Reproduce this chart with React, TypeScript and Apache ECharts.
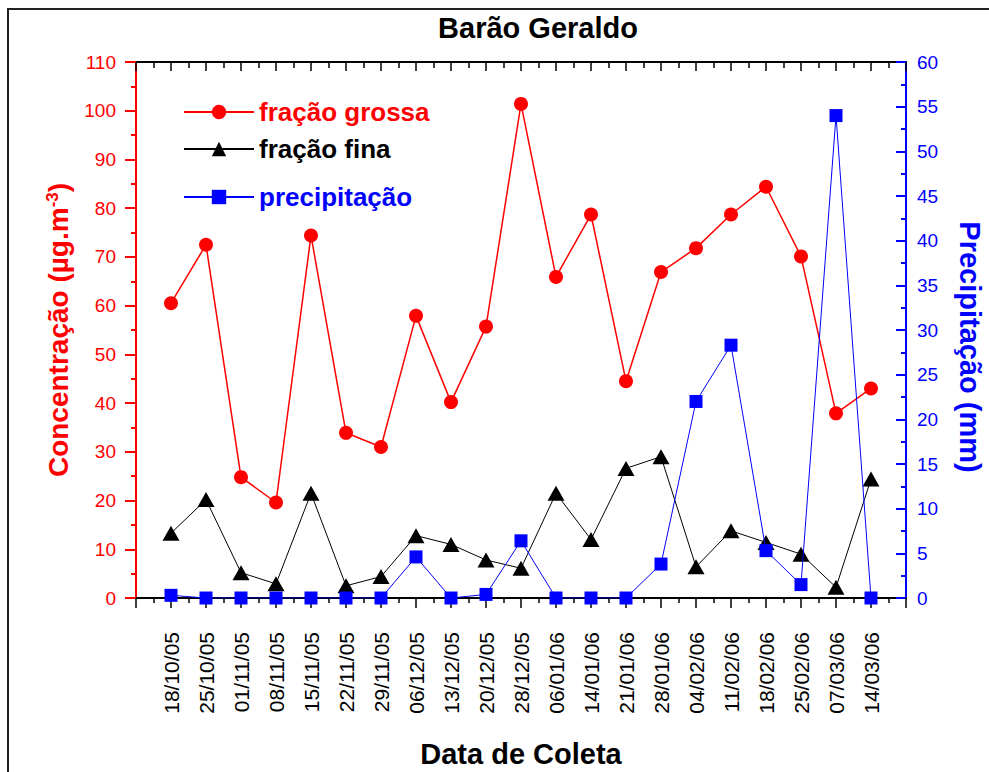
import React, { useEffect, useRef } from "react";
import * as echarts from "echarts";

const dates = [
  "18/10/05", "25/10/05", "01/11/05", "08/11/05", "15/11/05", "22/11/05", "29/11/05",
  "06/12/05", "13/12/05", "20/12/05", "28/12/05", "06/01/06", "14/01/06", "21/01/06",
  "28/01/06", "04/02/06", "11/02/06", "18/02/06", "25/02/06", "07/03/06", "14/03/06",
];
const fracaoGrossa = [60.5, 72.5, 24.8, 19.6, 74.4, 33.9, 31.0, 57.9, 40.2, 55.7, 101.4, 65.9, 78.7, 44.5, 66.9, 71.8, 78.7, 84.4, 70.1, 37.9, 43.0];
const fracaoFina = [13.3, 20.2, 5.2, 2.9, 21.5, 2.5, 4.4, 12.8, 11.0, 7.8, 6.1, 21.5, 12.0, 26.6, 29.0, 6.4, 13.8, 11.4, 9.0, 2.2, 24.4];
const precipitacao = [0.3, 0, 0, 0, 0, 0, 0, 4.6, 0, 0.4, 6.4, 0, 0, 0, 3.8, 22.0, 28.3, 5.3, 1.5, 54.0, 0];

const FONT = 'Arial, "Liberation Sans", Helvetica, sans-serif';

const toPairs = (arr: number[]) => arr.map((v, i) => [i, v]);

export default function App() {
  const ref = useRef<HTMLDivElement>(null);
  useEffect(() => {
    if (!ref.current) return;
    const chart = echarts.init(ref.current, null, { renderer: "svg" });
    const legendBase = (name: string, top: number, color: string) => ({
      data: [name],
      left: 183,
      top,
      padding: 0,
      itemWidth: 70,
      itemHeight: 18,
      selectedMode: false,
      textStyle: { color, fontSize: 26, fontWeight: "bold", fontFamily: FONT },
    });
    const option: any = {
      animation: false,
      backgroundColor: "#ffffff",
      title: {
        text: "Barão Geraldo",
        left: 533,
        textAlign: "center",
        top: 8,
        textStyle: { fontSize: 29, fontWeight: "bold", color: "#000", fontFamily: FONT },
      },
      graphic: [
        {
          type: "rect",
          shape: { x: 8, y: 9, width: 1000, height: 800 },
          style: { fill: "none", stroke: "#222", lineWidth: 2 },
          silent: true,
        },
      ],
      legend: [
        legendBase("fração grossa", 99, "#ff0000"),
        legendBase("fração fina", 136, "#000000"),
        legendBase("precipitação", 184, "#0000ff"),
      ],
      grid: { left: 136, right: 83, top: 62, bottom: 174, outerBoundsMode: "none" },
      xAxis: [
        {
          type: "value",
          position: "bottom",
          min: -1,
          max: 21,
          interval: 1,
          name: "Data de Coleta",
          nameLocation: "middle",
          nameGap: 141,
          nameTextStyle: { fontSize: 29, fontWeight: "bold", color: "#000", fontFamily: FONT },
          splitLine: { show: false },
          axisLine: { onZero: false, lineStyle: { color: "#000", width: 2 } },
          axisTick: { show: true, length: 10, lineStyle: { color: "#000", width: 1.5 } },
          minorTick: { show: true, splitNumber: 2, length: 5, lineStyle: { color: "#000", width: 1.5 } },
          axisLabel: {
            rotate: 90,
            margin: 34,
            fontSize: 21,
            color: "#000",
            fontFamily: FONT,
            showMinLabel: true,
            showMaxLabel: true,
            formatter: (v: number) => (Number.isInteger(v) && v >= 0 && v < dates.length ? dates[v] : ""),
          },
        },
        {
          type: "value",
          position: "top",
          min: -1,
          max: 21,
          interval: 1,
          splitLine: { show: false },
          axisLine: { onZero: false, lineStyle: { color: "#000", width: 2 } },
          axisTick: { show: true, inside: true, length: 9, lineStyle: { color: "#000", width: 1.5 } },
          minorTick: { show: true, splitNumber: 2, length: 6, lineStyle: { color: "#000", width: 1.5 } },
          axisLabel: { show: false },
        },
      ],
      yAxis: [
        {
          type: "value",
          position: "left",
          min: 0,
          max: 110,
          interval: 10,
          name: "Concentração (µg.m{sup|-3})",
          nameLocation: "middle",
          nameGap: 64,
          nameTextStyle: {
            fontSize: 28,
            fontWeight: "bold",
            color: "#ff0000",
            fontFamily: FONT,
            rich: {
              sup: { fontSize: 17, fontWeight: "bold", color: "#ff0000", fontFamily: FONT, verticalAlign: "top" },
            },
          },
          splitLine: { show: false },
          axisLine: { show: true, onZero: false, lineStyle: { color: "#ff0000", width: 2 } },
          axisTick: { show: true, length: 11, lineStyle: { color: "#ff0000", width: 2 } },
          minorTick: { show: true, splitNumber: 2, length: 5, lineStyle: { color: "#ff0000", width: 2 } },
          axisLabel: { margin: 20, fontSize: 19, color: "#ff0000", fontFamily: FONT },
        },
        {
          type: "value",
          position: "right",
          min: 0,
          max: 60,
          interval: 5,
          name: "Precipitação (mm)",
          nameLocation: "middle",
          nameRotate: -90,
          nameGap: 49,
          nameTextStyle: {
            fontSize: 29,
            fontWeight: "bold",
            color: "#0000ff",
            fontFamily: FONT,
            padding: [0, 0, 0, 34],
          },
          splitLine: { show: false },
          axisLine: { show: true, onZero: false, lineStyle: { color: "#0000ff", width: 2 } },
          axisTick: { show: true, inside: true, length: 10, lineStyle: { color: "#0000ff", width: 2 } },
          minorTick: { show: true, splitNumber: 2, length: 5, lineStyle: { color: "#0000ff", width: 2 } },
          axisLabel: { margin: 11, fontSize: 19, color: "#0000ff", fontFamily: FONT },
        },
      ],
      series: [
        {
          name: "fração grossa",
          type: "line",
          xAxisIndex: 0,
          yAxisIndex: 0,
          data: toPairs(fracaoGrossa),
          symbol: "circle",
          symbolSize: 14,
          color: "#ff0000",
          itemStyle: { color: "#ff0000" },
          lineStyle: { color: "#ff0000", width: 1.5 },
          z: 2,
        },
        {
          name: "fração fina",
          type: "line",
          xAxisIndex: 0,
          yAxisIndex: 0,
          data: toPairs(fracaoFina),
          symbol: "triangle",
          symbolSize: [17, 15],
          color: "#000000",
          itemStyle: { color: "#000000" },
          lineStyle: { color: "#000000", width: 1 },
          z: 3,
        },
        {
          name: "precipitação",
          type: "line",
          xAxisIndex: 0,
          yAxisIndex: 1,
          data: toPairs(precipitacao),
          symbol: "rect",
          symbolSize: 13,
          color: "#0000ff",
          itemStyle: { color: "#0000ff" },
          lineStyle: { color: "#0000ff", width: 1 },
          z: 4,
        },
      ],
    };
    chart.setOption(option);
    return () => chart.dispose();
  }, []);
  return (
    <div
      ref={ref}
      style={{ position: "fixed", left: 0, top: 0, width: 989, height: 772, background: "#fff" }}
    />
  );
}
